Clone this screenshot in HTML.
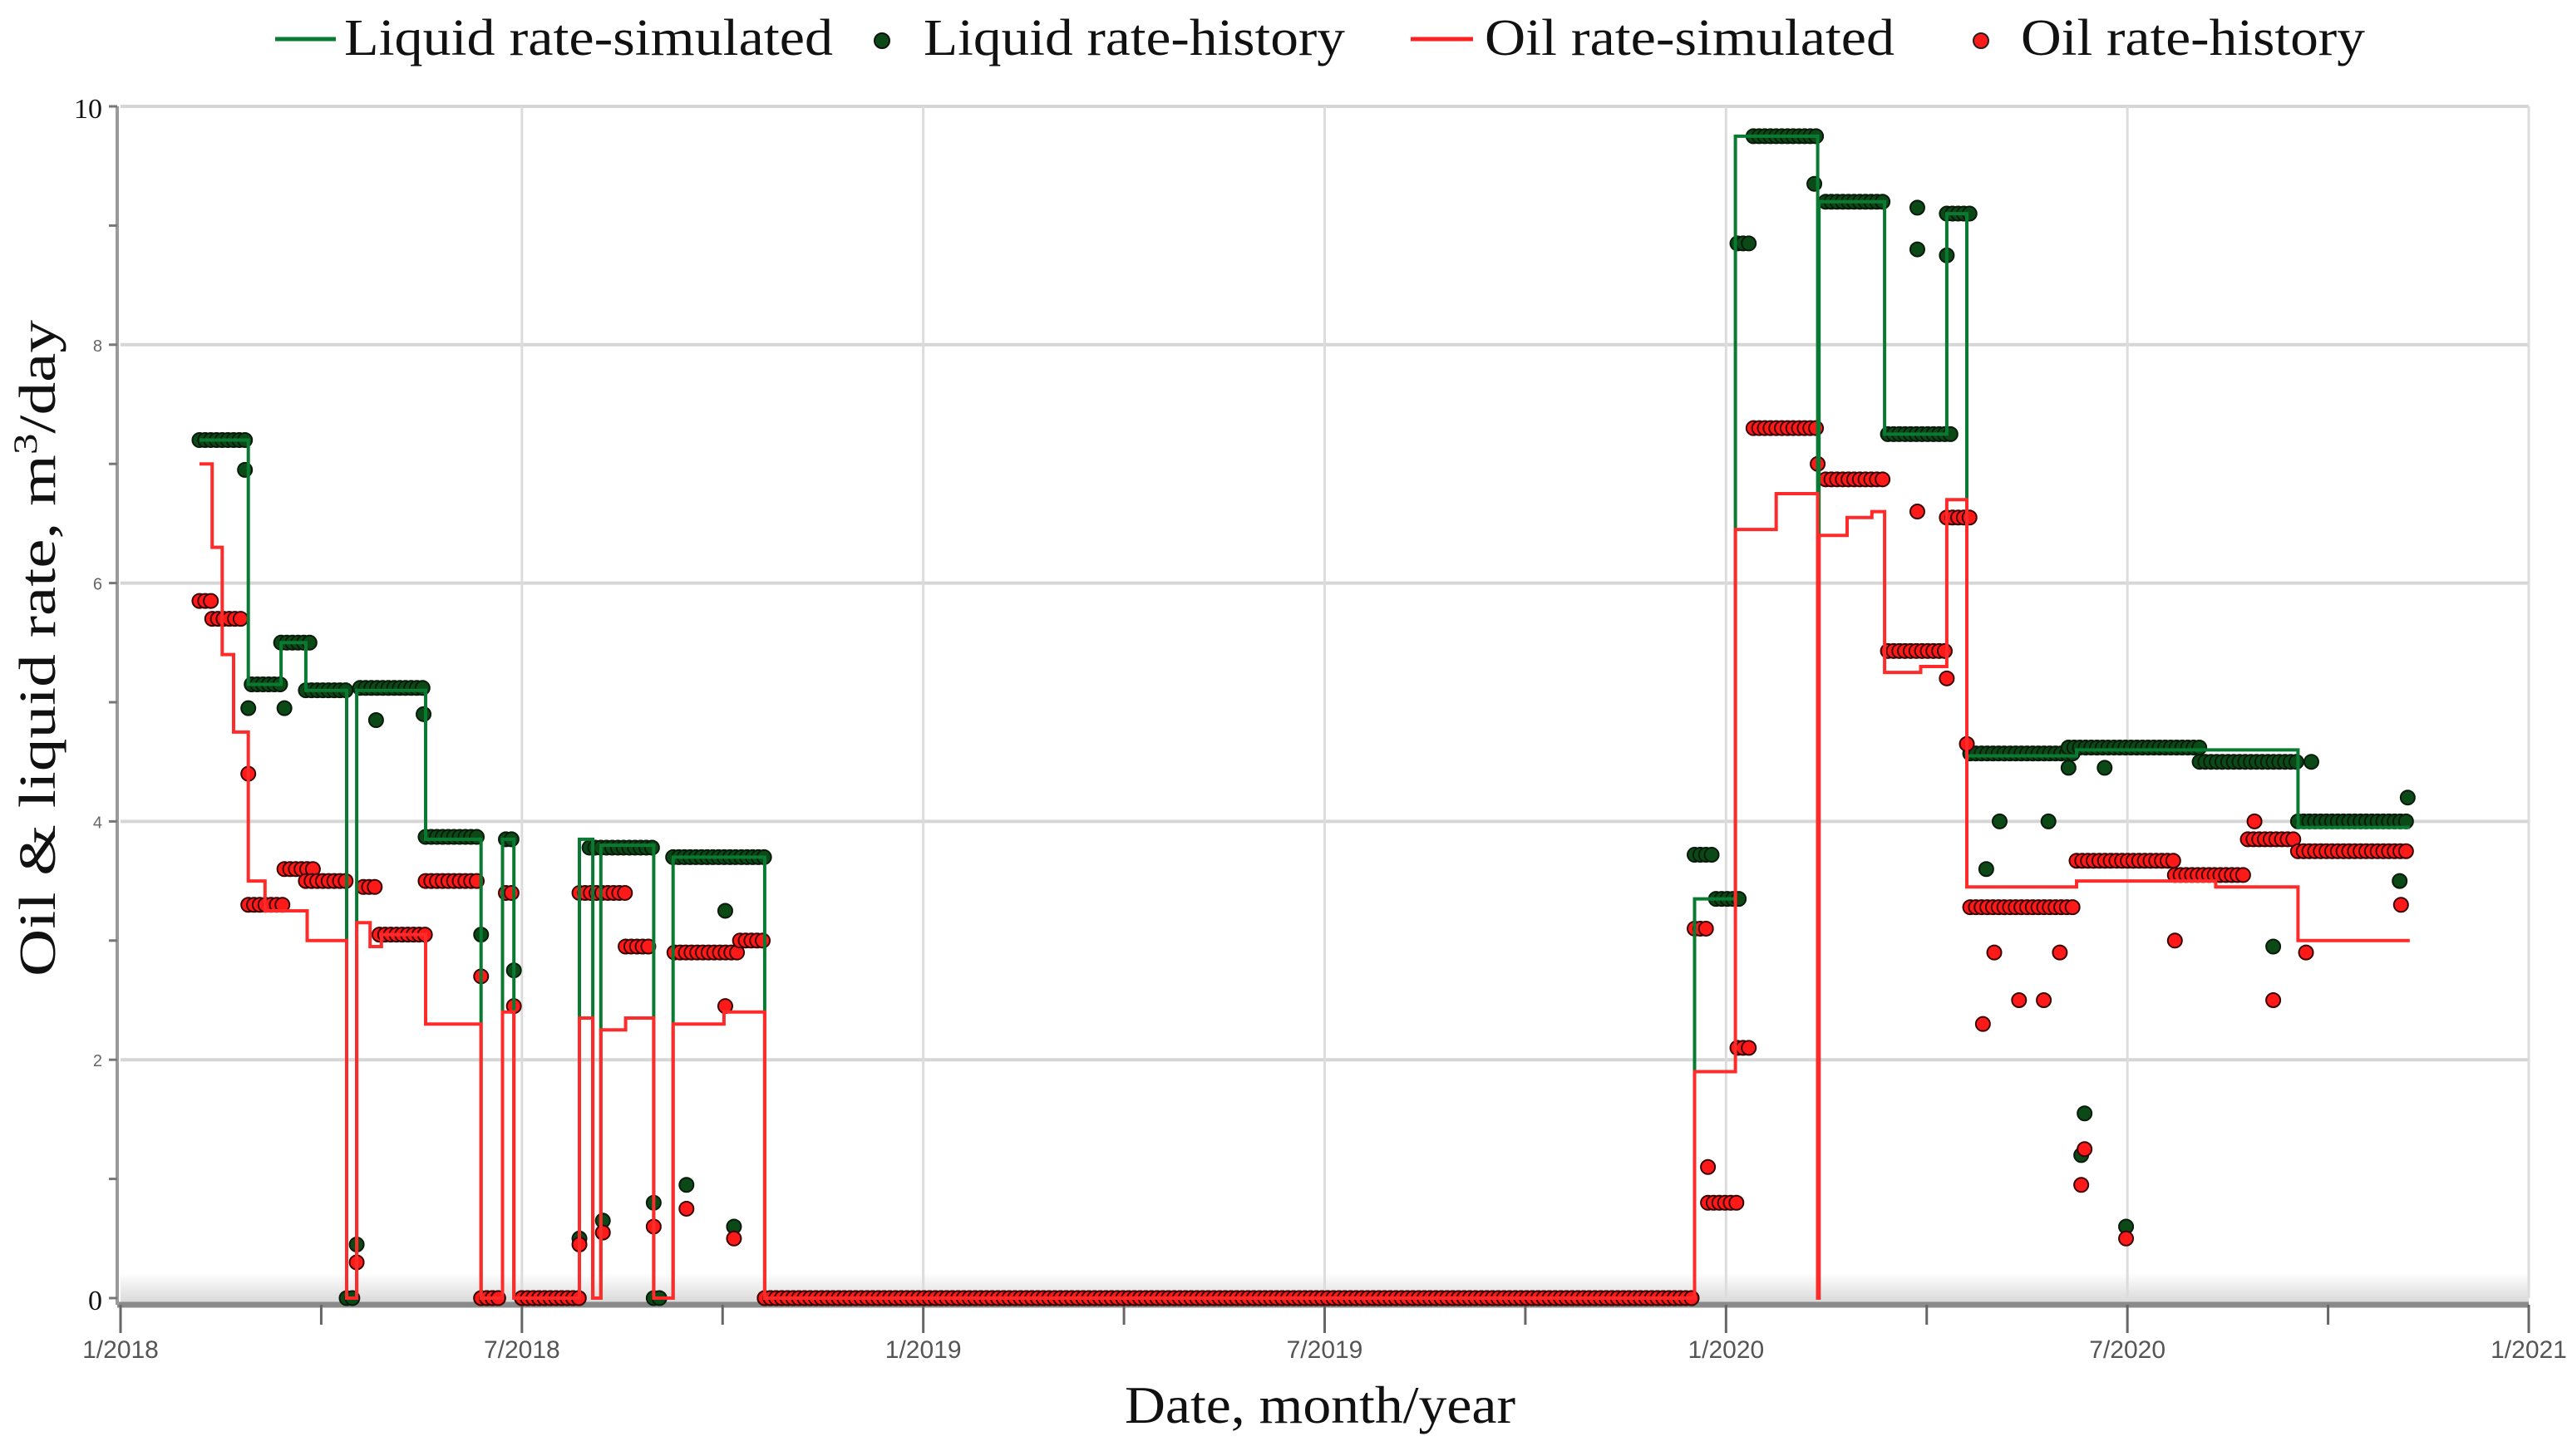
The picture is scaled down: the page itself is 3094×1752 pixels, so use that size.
<!DOCTYPE html>
<html><head><meta charset="utf-8">
<style>
html,body{margin:0;padding:0;background:#fff;}
svg{display:block;}
</style></head>
<body>
<svg id="chart" width="3094" height="1752" viewBox="0 0 3094 1752" xmlns="http://www.w3.org/2000/svg">
<defs>
<linearGradient id="band" x1="0" y1="0" x2="0" y2="1">
<stop offset="0" stop-color="#fff"/><stop offset="1" stop-color="#d8d8d8"/>
</linearGradient>
</defs>
<g id="grid"></g>
<g id="axes"></g>
<g id="marks"></g>
<g id="legend">
<g>
<line x1="331" y1="47" x2="404" y2="47" stroke="#0a7a32" stroke-width="5"/>
<text x="414" y="66" font-family="Liberation Serif, serif" font-size="62" textLength="588" lengthAdjust="spacingAndGlyphs" fill="#111">Liquid rate-simulated</text>
</g>
<g>
<circle cx="1061" cy="49" r="9" fill="#0b4a17" stroke="#111" stroke-width="2"/>
<text x="1111" y="66" font-family="Liberation Serif, serif" font-size="62" textLength="507" lengthAdjust="spacingAndGlyphs" fill="#111">Liquid rate-history</text>
</g>
<g>
<line x1="1697" y1="47" x2="1772" y2="47" stroke="#ff2020" stroke-width="5"/>
<text x="1786" y="66" font-family="Liberation Serif, serif" font-size="62" textLength="493" lengthAdjust="spacingAndGlyphs" fill="#111">Oil rate-simulated</text>
</g>
<g>
<circle cx="2383" cy="49" r="9" fill="#ff1a1a" stroke="#222" stroke-width="2"/>
<text x="2431" y="66" font-family="Liberation Serif, serif" font-size="62" textLength="414" lengthAdjust="spacingAndGlyphs" fill="#111">Oil rate-history</text>
</g>
</g>
<text transform="translate(66,780) rotate(-90)" text-anchor="middle" font-family="Liberation Serif, serif" font-size="62" textLength="790" lengthAdjust="spacingAndGlyphs" fill="#111">Oil &amp; liquid rate, m<tspan baseline-shift="super" font-size="40">3</tspan>/day</text>
<text x="1588" y="1712" text-anchor="middle" font-family="Liberation Serif, serif" font-size="64" textLength="470" lengthAdjust="spacingAndGlyphs" fill="#111">Date, month/year</text>
</svg>
<script>
// ---- data (x in months since 1/2018, y in m3/day) ----
const xTickLabels = ["1/2018","7/2018","1/2019","7/2019","1/2020","7/2020","1/2021"];
const xTickMonths = [0,6,12,18,24,30,36];
const yTickValues = [0,2,4,6,8,10];

const liqSimX = [1.18,1.91,2.40,2.77,3.38,3.53,4.56,5.39,5.71,5.88,6.86,7.06,7.18,7.97,8.26,9.63,23.53,24.14,25.37,25.39,26.37,27.30,27.60,29.24,32.55,34.22];
const liqSimY = [7.2,5.15,5.5,5.1,0,5.1,3.85,0,3.85,0,3.85,0,3.8,0,3.7,0,3.35,9.75,0,9.2,7.25,9.1,4.55,4.6,3.95,3.95];

const oilSimX = [1.18,1.37,1.52,1.69,1.91,2.16,2.79,3.38,3.53,3.73,3.90,4.56,5.39,5.71,5.88,6.86,7.06,7.18,7.55,7.97,8.26,9.02,9.63,23.53,24.14,24.75,25.37,25.39,25.81,26.18,26.37,26.91,27.30,27.60,29.24,31.32,32.55,34.22];
const oilSimY = [7.0,6.3,5.4,4.75,3.5,3.25,3.0,0,3.15,2.95,3.05,2.3,0,2.4,0,2.35,0,2.25,2.35,0,2.3,2.4,0,1.9,6.45,6.75,0,6.4,6.55,6.6,5.25,5.3,6.7,3.45,3.5,3.45,3.0,3.0];

const liqRunStart = [1.18,1.86,1.96,2.40,2.77,3.38,3.58,4.56,5.39,5.76,6.00,7.01,7.97,8.26,9.63,23.53,23.85,24.17,24.41,25.49,26.42,27.30,27.65,29.12,31.08,32.55];
const liqRunEnd   = [1.86,1.91,2.45,2.89,3.38,3.53,4.56,5.39,5.71,5.88,6.86,7.97,8.10,9.63,23.53,23.85,24.22,24.41,25.37,26.37,27.40,27.65,29.24,31.08,32.55,34.22];
const liqRunVal   = [7.2,6.95,5.15,5.5,5.1,0,5.12,3.87,0,3.85,0,3.78,0,3.7,0,3.72,3.35,8.85,9.75,9.2,7.25,9.1,4.57,4.62,4.5,4.0];
const liqPtX = [1.91,2.45,3.53,3.82,4.53,5.39,5.88,6.86,7.21,7.97,8.46,9.04,9.17,25.32,26.86,26.86,27.30,27.89,28.09,28.82,29.12,29.31,29.36,29.66,29.98,32.18,32.75,34.07,34.19];
const liqPtY = [4.95,4.95,0.45,4.85,4.9,3.05,2.75,0.5,0.65,0.8,0.95,3.25,0.6,9.35,9.15,8.8,8.75,3.6,4.0,4.0,4.45,1.2,1.55,4.45,0.6,2.95,4.5,3.5,4.2];

const oilRunStart = [1.18,1.37,1.91,2.45,2.77,3.63,3.87,4.56,5.39,5.76,6.00,6.86,7.55,8.28,9.26,9.63,23.53,23.73,24.17,24.41,25.49,26.42,27.30,27.65,29.24,30.71,31.8,32.55];
const oilRunEnd   = [1.37,1.86,2.45,2.89,3.38,3.87,4.56,5.39,5.71,5.88,6.86,7.55,7.97,9.26,9.63,23.53,23.73,24.22,24.41,25.37,26.37,27.30,27.65,29.24,30.71,31.8,32.55,34.22];
const oilRunVal   = [5.85,5.7,3.3,3.6,3.5,3.45,3.05,3.5,0,3.4,0,3.4,2.95,2.9,3.0,0,3.1,0.8,2.1,7.3,6.87,5.43,6.55,3.28,3.67,3.55,3.85,3.75];
const oilPtX = [1.91,3.53,5.39,5.88,6.86,7.21,7.97,8.46,9.04,9.17,23.73,25.37,26.86,27.30,27.60,27.84,28.01,28.38,28.75,28.99,29.31,29.36,29.98,30.71,32.18,32.67,34.09,31.9];
const oilPtY = [4.4,0.3,2.7,2.45,0.45,0.55,0.6,0.75,2.45,0.5,1.1,7.0,6.6,5.2,4.65,2.3,2.9,2.5,2.5,2.9,0.95,1.25,0.5,3.0,2.5,2.9,3.3,4.0];

// ---- axes ----
const X0=145, X1=3042, Y0=1562, Y1=128;
const xs = m => X0 + m/36*(X1-X0);
const ys = v => Y0 - v/10*(Y0-Y1);
const NS="http://www.w3.org/2000/svg";
function mk(tag, attrs, parent){const e=document.createElementNS(NS,tag);for(const k in attrs)e.setAttribute(k,attrs[k]);parent.appendChild(e);return e;}
const grid=document.getElementById('grid'), axes=document.getElementById('axes'), marks=document.getElementById('marks');

const band=mk('rect',{x:X0,y:Y0-30,width:X1-X0,height:36,fill:'url(#band)'},grid);


yTickValues.forEach(v=>{
  if(v===0)return;
  const g=mk('line',{x1:X0,x2:X1,y1:ys(v),y2:ys(v),stroke:'#d6d6d6','stroke-width':4},grid);
  
  
});
xTickMonths.forEach(m=>{
  if(m===0)return;
  const g=mk('line',{x1:xs(m),x2:xs(m),y1:Y1,y2:Y0,stroke:'#dcdcdc','stroke-width':3},grid);
  
  
});
// axes lines
const xa=mk('line',{x1:X0-4,x2:X1,y1:Y0+8,y2:Y0+8,stroke:'#8a8a8a','stroke-width':7},axes);


const ya=mk('line',{x1:X0-4,x2:X0-4,y1:Y1,y2:Y0+8,stroke:'#9a9a9a','stroke-width':4},axes);


for(let m=0;m<=36;m+=3){
  const t=mk('line',{x1:xs(m),x2:xs(m),y1:Y0+8,y2:Y0+(m%6===0?42:32),stroke:'#666','stroke-width':3},axes);
  
  
}
xTickLabels.forEach((l,i)=>{
  const t=mk('text',{x:xs(xTickMonths[i]),y:Y0+72,'text-anchor':'middle','font-family':'Liberation Sans Narrow, Liberation Sans, sans-serif','font-size':30,fill:'#555'},axes);
  t.textContent=l;
  
  
});
for(let v=0;v<=10;v++){
  const t=mk('line',{x1:X0-14,x2:X0-4,y1:ys(v),y2:ys(v),stroke:'#777','stroke-width':3},axes);
  
  
}
yTickValues.forEach(v=>{
  const big=(v===10||v===0);
  const t=mk('text',{x:X0-22,y:ys(v)+(big?14:8),'text-anchor':'end','font-family':big?'Liberation Serif, serif':'Liberation Sans, sans-serif','font-size':big?34:20,fill:big?'#111':'#666'},axes);
  t.textContent=String(v);
  
  
});

// ---- marks ----
function dots(starts,ends,vals,px,py,fill,stroke,name){
  const g=mk('g',{},marks);
  
  
  for(let i=0;i<starts.length;i++){
    for(let m=starts[i]; m<=ends[i]+1e-6; m+=0.085){
      mk('circle',{cx:xs(m),cy:ys(vals[i]),r:8.5,fill:fill,stroke:stroke,'stroke-width':2},g);
    }
  }
  for(let i=0;i<px.length;i++) mk('circle',{cx:xs(px[i]),cy:ys(py[i]),r:8.5,fill:fill,stroke:stroke,'stroke-width':2},g);
}
function step(X,Y,color,name){
  let d='M'+xs(X[0])+' '+ys(Y[0]);
  for(let i=1;i<X.length;i++){ d+=' H'+xs(X[i]).toFixed(1)+' V'+ys(Y[i]).toFixed(1); }
  const p=mk('path',{d:d,fill:'none',stroke:color,'stroke-width':4,'stroke-linejoin':'miter'},marks);
  
  
}
dots(liqRunStart,liqRunEnd,liqRunVal,liqPtX,liqPtY,'#0b4a17','#0a1a0a','liquid-history-points');
dots(oilRunStart,oilRunEnd,oilRunVal,oilPtX,oilPtY,'#ff1a1a','#3a0000','oil-history-points');
step(liqSimX,liqSimY,'#0a7a32','liquid-simulated-line');
step(oilSimX,oilSimY,'#ff2a2a','oil-simulated-line');
</script>
</body></html>
